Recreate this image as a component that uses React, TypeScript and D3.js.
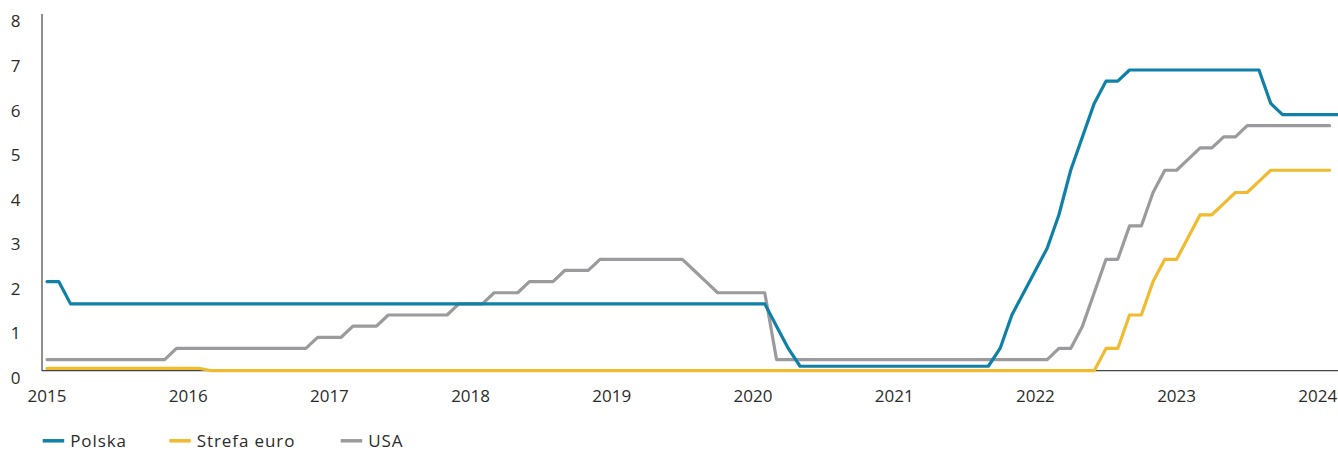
import React from "react";
import * as d3 from "d3";

const startYear = 2015;
const yearTicks = [2015, 2016, 2017, 2018, 2019, 2020, 2021, 2022, 2023, 2024];
const yTicks = [0, 1, 2, 3, 4, 5, 6, 7, 8];

// monthly values from Jan 2015
const polska = [
  2.0, 2.0, 1.5, 1.5, 1.5, 1.5, 1.5, 1.5, 1.5, 1.5, 1.5, 1.5,
  1.5, 1.5, 1.5, 1.5, 1.5, 1.5, 1.5, 1.5, 1.5, 1.5, 1.5, 1.5,
  1.5, 1.5, 1.5, 1.5, 1.5, 1.5, 1.5, 1.5, 1.5, 1.5, 1.5, 1.5,
  1.5, 1.5, 1.5, 1.5, 1.5, 1.5, 1.5, 1.5, 1.5, 1.5, 1.5, 1.5,
  1.5, 1.5, 1.5, 1.5, 1.5, 1.5, 1.5, 1.5, 1.5, 1.5, 1.5, 1.5,
  1.5, 1.5, 1.0, 0.5, 0.1, 0.1, 0.1, 0.1, 0.1, 0.1, 0.1, 0.1,
  0.1, 0.1, 0.1, 0.1, 0.1, 0.1, 0.1, 0.1, 0.1, 0.5, 1.25, 1.75,
  2.25, 2.75, 3.5, 4.5, 5.25, 6.0, 6.5, 6.5, 6.75, 6.75, 6.75, 6.75,
  6.75, 6.75, 6.75, 6.75, 6.75, 6.75, 6.75, 6.75, 6.0, 5.75, 5.75, 5.75,
  5.75, 5.75, 5.75,
];

const strefaEuro = [
  0.05, 0.05, 0.05, 0.05, 0.05, 0.05, 0.05, 0.05, 0.05, 0.05, 0.05, 0.05,
  0.05, 0.05, 0, 0, 0, 0, 0, 0, 0, 0, 0, 0,
  0, 0, 0, 0, 0, 0, 0, 0, 0, 0, 0, 0,
  0, 0, 0, 0, 0, 0, 0, 0, 0, 0, 0, 0,
  0, 0, 0, 0, 0, 0, 0, 0, 0, 0, 0, 0,
  0, 0, 0, 0, 0, 0, 0, 0, 0, 0, 0, 0,
  0, 0, 0, 0, 0, 0, 0, 0, 0, 0, 0, 0,
  0, 0, 0, 0, 0, 0, 0.5, 0.5, 1.25, 1.25, 2.0, 2.5,
  2.5, 3.0, 3.5, 3.5, 3.75, 4.0, 4.0, 4.25, 4.5, 4.5, 4.5, 4.5,
  4.5, 4.5,
];

const usa = [
  0.25, 0.25, 0.25, 0.25, 0.25, 0.25, 0.25, 0.25, 0.25, 0.25, 0.25, 0.5,
  0.5, 0.5, 0.5, 0.5, 0.5, 0.5, 0.5, 0.5, 0.5, 0.5, 0.5, 0.75,
  0.75, 0.75, 1.0, 1.0, 1.0, 1.25, 1.25, 1.25, 1.25, 1.25, 1.25, 1.5,
  1.5, 1.5, 1.75, 1.75, 1.75, 2.0, 2.0, 2.0, 2.25, 2.25, 2.25, 2.5,
  2.5, 2.5, 2.5, 2.5, 2.5, 2.5, 2.5, 2.25, 2.0, 1.75, 1.75, 1.75,
  1.75, 1.75, 0.25, 0.25, 0.25, 0.25, 0.25, 0.25, 0.25, 0.25, 0.25, 0.25,
  0.25, 0.25, 0.25, 0.25, 0.25, 0.25, 0.25, 0.25, 0.25, 0.25, 0.25, 0.25,
  0.25, 0.25, 0.5, 0.5, 1.0, 1.75, 2.5, 2.5, 3.25, 3.25, 4.0, 4.5,
  4.5, 4.75, 5.0, 5.0, 5.25, 5.25, 5.5, 5.5, 5.5, 5.5, 5.5, 5.5,
  5.5, 5.5,
];

const seriesNames = ["Polska", "Strefa euro", "USA"];
const seriesColors = ["#0f80a8", "#f0bb2f", "#9b9b9d"];

const W = 1338;
const H = 450;
const FONT = "'Open Sans', sans-serif";

export default function App() {
  const x = d3.scaleLinear().domain([0, 108]).range([47, 1317.8]);
  const y = d3.scaleLinear().domain([0, 8]).range([370.7, 14.3]);
  const line = d3
    .line<number>()
    .x((_, i) => x(i))
    .y((d) => y(d));

  const data = [polska, strefaEuro, usa];
  const drawOrder = [1, 2, 0];
  const legendX = [42.7, 169.3, 340.7];

  return (
    <svg
      width={W}
      height={H}
      style={{ position: "absolute", left: 0, top: 0, display: "block" }}
    >
      <rect width={W} height={H} fill="#fff" />
      <line x1={42} x2={42} y1={14} y2={371} stroke="#444" strokeWidth={1.2} />
      <line x1={42} x2={W} y1={370.7} y2={370.7} stroke="#444" strokeWidth={1.2} />
      {yTicks.map((t) => (
        <text
          key={t}
          x={15.5}
          y={y(t) + 7}
          dy="0.36em"
          textAnchor="middle"
          fontFamily={FONT}
          fontSize={17}
          fill="#2b2b2b"
        >
          {t}
        </text>
      ))}
      {yearTicks.map((yr) => (
        <text
          key={yr}
          x={x((yr - startYear) * 12)}
          y={395.5}
          dy="0.36em"
          textAnchor="middle"
          fontFamily={FONT}
          fontSize={17}
          fill="#2b2b2b"
        >
          {yr}
        </text>
      ))}
      {drawOrder.map((k) => (
        <path
          key={k}
          d={line(data[k]) || ""}
          fill="none"
          stroke={seriesColors[k]}
          strokeWidth={3.2}
          strokeLinejoin="round"
          strokeLinecap="round"
        />
      ))}
      {seriesNames.map((name, k) => (
        <g key={name}>
          <line
            x1={legendX[k]}
            x2={legendX[k] + 21.5}
            y1={440.8}
            y2={440.8}
            stroke={seriesColors[k]}
            strokeWidth={3.5}
          />
          <text
            x={legendX[k] + 27.5}
            y={447.3}
            fontFamily={FONT}
            fontSize={17}
            letterSpacing={0.9}
            fill="#2b2b2b"
          >
            {name}
          </text>
        </g>
      ))}
    </svg>
  );
}
